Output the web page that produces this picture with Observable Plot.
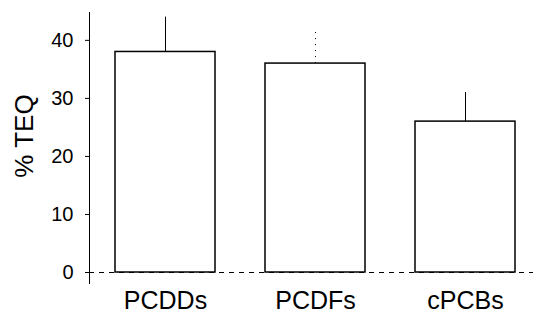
<!DOCTYPE html>
<html><head><meta charset="utf-8">
<script src="https://cdn.jsdelivr.net/npm/d3@7"></script>
<script src="https://cdn.jsdelivr.net/npm/@observablehq/plot@0.6"></script>
<style>body{margin:0;background:#fff;} svg{font-family:"Liberation Sans",Arial,sans-serif;}</style>
</head><body><div id="chart"></div>
<script>
const categories = ["PCDDs", "PCDFs", "cPCBs"];
const teq = [38, 36, 26];
const errUp = [6, 5.8, 5];
const yTicks = [0, 10, 20, 30, 40];
const yLabel = "% TEQ";

const data = categories.map((c, i) => ({cat: c, v: teq[i], top: teq[i] + errUp[i]}));
const solidErr = data.filter(d => d.cat !== "PCDFs");
const faintErr = data.filter(d => d.cat === "PCDFs");

const chart = Plot.plot({
  width: 533, height: 324,
  marginLeft: 89, marginRight: 0, marginTop: 12, marginBottom: 41,
  style: {fontFamily: "'Liberation Sans', Arial, sans-serif", color: "#000", background: "#fff"},
  x: {domain: categories, range: [90, 540], paddingInner: 1/3, paddingOuter: 1/6, label: null},
  y: {domain: [0, 44.8], range: [272, 12], label: null},
  marks: [
    Plot.ruleX(solidErr, {x: "cat", y1: "v", y2: "top", stroke: "#000", strokeWidth: 1}),
    Plot.ruleX(faintErr, {x: "cat", y1: "v", y2: "top", stroke: "#000", strokeWidth: 1, strokeDasharray: "1,5"}),
    Plot.ruleY([0], {stroke: "#000", strokeWidth: 1, strokeDasharray: "5,5"}),
    Plot.barY(data, {x: "cat", y: "v", fill: "#fff", stroke: "#000", strokeWidth: 1.5}),
    Plot.frame({anchor: "left", stroke: "#000", strokeWidth: 1}),
    Plot.axisY({ticks: yTicks, tickSize: 4, tickPadding: 12, fontSize: 20, label: null}),
    Plot.text([yLabel], {frameAnchor: "left", textAnchor: "middle", rotate: -90, dx: -65, dy: -12, fontSize: 26}),
    Plot.axisX({tickSize: 0, tickPadding: 8, fontSize: 25, label: null})
  ]
});
document.getElementById("chart").append(chart);
</script></body></html>
